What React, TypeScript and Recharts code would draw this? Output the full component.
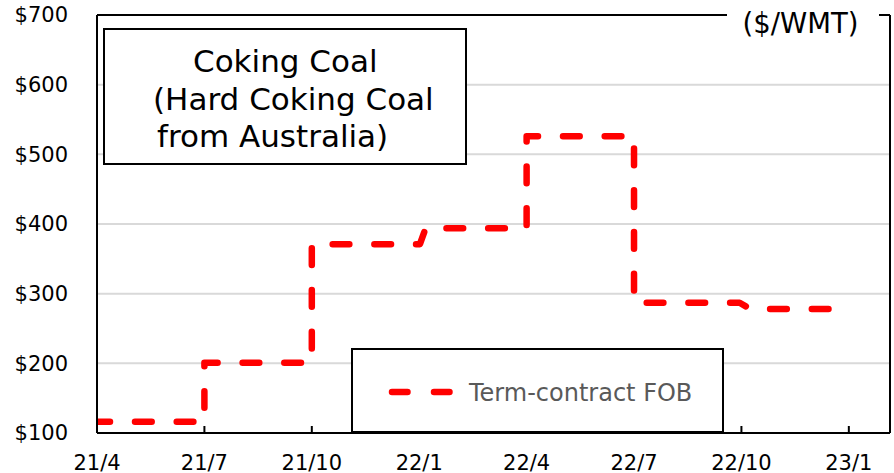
import React from "react";
import { LineChart, Line, XAxis, YAxis, CartesianGrid, ReferenceLine } from "recharts";

// Month offsets from 21/4 (0 = 21/4, 3 = 21/7, ...), corner points of the contract price path
const monthIndex = [0, 3, 3, 6, 6, 9.02, 9.18, 12, 12, 15, 15, 17.95, 18.25, 20.95];
const fobPrice = [116, 116, 201, 201, 371, 371, 394, 394, 526, 526, 287, 287, 278, 278];

const xTickValues = [0, 3, 6, 9, 12, 15, 18, 21];
const xTickLabels = ["21/4", "21/7", "21/10", "22/1", "22/4", "22/7", "22/10", "23/1"];
const yTickValues = [100, 200, 300, 400, 500, 600, 700];

const seriesName = "Term-contract FOB";
const titleLines = ["Coking Coal", "(Hard Coking Coal", "from Australia)"];
const unitLabel = "($/WMT)";

const data = monthIndex.map((m, i) => ({ m, v: fobPrice[i] }));

const W = 894;
const H = 473;
const FONT = "'DejaVu Sans', Verdana, sans-serif";
const DASH = "16.7 25";

export default function App() {
  return (
    <div style={{ position: "relative", width: W, height: H, fontFamily: FONT, background: "#fff" }}>
      <style>{"body{margin:0;}"}</style>
      <LineChart width={W} height={H} data={data} margin={{ top: 15, right: 4, bottom: 0, left: 0 }}>
        <CartesianGrid horizontal vertical={false} stroke="#d9d9d9" strokeWidth={2} />
        <XAxis
          dataKey="m"
          type="number"
          domain={[0, 22.15]}
          ticks={xTickValues}
          tickFormatter={(v: number) => xTickLabels[xTickValues.indexOf(v)] ?? ""}
          height={40}
          tickSize={-7}
          tickMargin={29.5}
          interval={0}
          axisLine={{ stroke: "#000", strokeWidth: 2 }}
          tickLine={{ stroke: "#000", strokeWidth: 2 }}
          tick={{ fill: "#000", fontSize: 21, fontFamily: FONT }}
          allowDataOverflow
        />
        <YAxis
          type="number"
          domain={[100, 700]}
          ticks={yTickValues}
          tickFormatter={(v: number) => `$${v}`}
          width={97}
          tickSize={0}
          tickMargin={29}
          interval={0}
          axisLine={{ stroke: "#000", strokeWidth: 2 }}
          tickLine={false}
          tick={{ fill: "#000", fontSize: 21, fontFamily: FONT }}
          allowDataOverflow
        />
        <ReferenceLine y={700} stroke="#000" strokeWidth={2} />
        <ReferenceLine x={22.15} stroke="#000" strokeWidth={2} />
        <Line
          type="linear"
          dataKey="v"
          name={seriesName}
          stroke="#ff0000"
          strokeWidth={6.5}
          strokeDasharray={DASH}
          strokeDashoffset={3.7}
          strokeLinecap="round"
          strokeLinejoin="round"
          dot={false}
          activeDot={false}
          isAnimationActive={false}
        />
      </LineChart>
      <svg
        width={W}
        height={H}
        style={{ position: "absolute", left: 0, top: 0, pointerEvents: "none" }}
        fontFamily={FONT}
      >
        {/* unit label over top border */}
        <rect x={727} y={10} width={152} height={12} fill="#fff" />
        <text x={800.5} y={33} fontSize={27.5} textAnchor="middle" fill="#000">
          {unitLabel}
        </text>
        {/* title box */}
        <rect x={104} y={29} width={362} height={135} fill="#fff" stroke="#000" strokeWidth={2} />
        <text x={193} y={72} fontSize={31} fill="#000">{titleLines[0]}</text>
        <text x={153} y={110} fontSize={31} fill="#000">{titleLines[1]}</text>
        <text x={157} y={147} fontSize={31} fill="#000">{titleLines[2]}</text>
        {/* legend box */}
        <rect x={352} y={349} width={371} height={83} fill="#fff" stroke="#000" strokeWidth={2} />
        <line
          x1={392}
          y1={392}
          x2={456}
          y2={392}
          stroke="#ff0000"
          strokeWidth={6.5}
          strokeDasharray="15.5 26.5"
          strokeLinecap="round"
        />
        <text x={469} y={401} fontSize={24} fill="#595959">{seriesName}</text>
      </svg>
    </div>
  );
}
